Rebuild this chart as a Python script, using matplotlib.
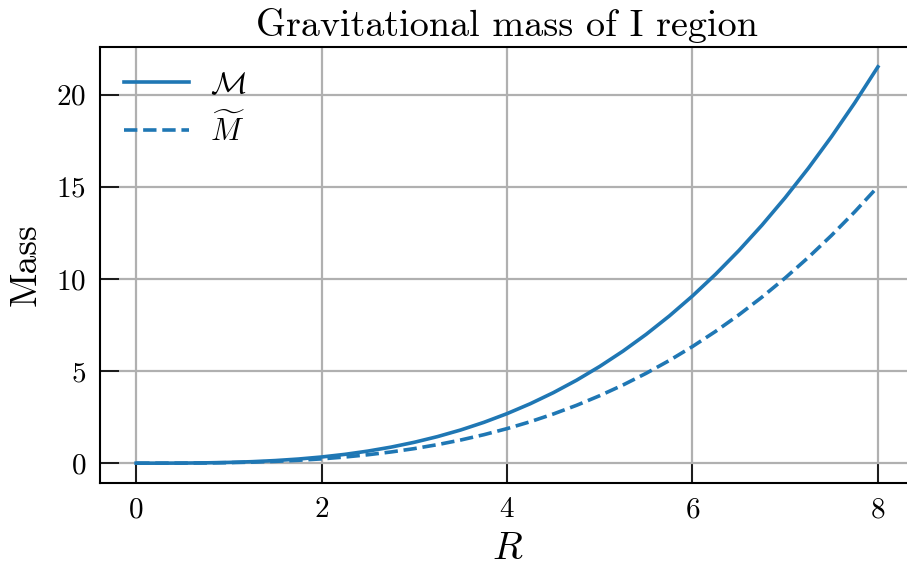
import matplotlib
matplotlib.use('Agg')
import matplotlib.pyplot as plt

plt.rcParams['font.family'] = 'serif'
plt.rcParams['font.serif'] = ['cmr10']
plt.rcParams['mathtext.fontset'] = 'cm'
plt.rcParams['axes.formatter.use_mathtext'] = True

# radius samples and masses
r_vals = [0, 0.25, 0.5, 0.75, 1, 1.25, 1.5, 1.75, 2, 2.25, 2.5, 2.75, 3,
          3.25, 3.5, 3.75, 4, 4.25, 4.5, 4.75, 5, 5.25, 5.5, 5.75, 6,
          6.25, 6.5, 6.75, 7, 7.25, 7.5, 7.75, 8]
mass_calM = [0, 0.001, 0.005, 0.018, 0.042, 0.082, 0.142, 0.225, 0.336,
             0.478, 0.656, 0.873, 1.134, 1.442, 1.801, 2.215, 2.688, 3.224,
             3.827, 4.501, 5.25, 6.077, 6.988, 7.985, 9.072, 10.254, 11.534,
             12.917, 14.406, 16.005, 17.719, 19.55, 21.504]
mass_tilde = [0, 0.0005, 0.004, 0.012, 0.029, 0.057, 0.099, 0.157, 0.234,
              0.334, 0.458, 0.609, 0.791, 1.006, 1.256, 1.545, 1.875, 2.249,
              2.67, 3.14, 3.663, 4.24, 4.875, 5.57, 6.329, 7.153, 8.046,
              9.011, 10.05, 11.165, 12.36, 13.638, 15.002]
x_ticks = [0, 2, 4, 6, 8]
y_ticks = [0, 5, 10, 15, 20]

fig = plt.figure(figsize=(9.07, 5.7), dpi=100)
ax = fig.add_axes([100 / 907, 1 - 483 / 570, 815 / 907, 436 / 570])

ax.plot(r_vals, mass_calM, color='#1f77b4', lw=2.6, label=r'$\mathcal{M}$')
ax.plot(r_vals, mass_tilde, color='#1f77b4', lw=2.6, ls='--', label=r'$\widetilde{M}$')

ax.set_xlim(-0.39, 8.4)
ax.set_xticks(x_ticks)
ax.set_yticks(y_ticks)
ax.grid(True, color='#b0b0b0', lw=1.6)
ax.tick_params(direction='in', length=14, width=1.2, labelsize=21, pad=10)
for s in ax.spines.values():
    s.set_linewidth(1.5)

ax.set_xlabel(r'$R$', fontsize=28, labelpad=6)
ax.set_ylabel('Mass', fontsize=27, labelpad=10)
ax.set_title('Gravitational mass of I region', fontsize=27.5, pad=8)
ax.legend(loc='upper left', frameon=False, fontsize=22, handlelength=2.1,
          handletextpad=0.7, borderaxespad=0.4, labelspacing=0.45)

fig.savefig('out.png', dpi=100)
